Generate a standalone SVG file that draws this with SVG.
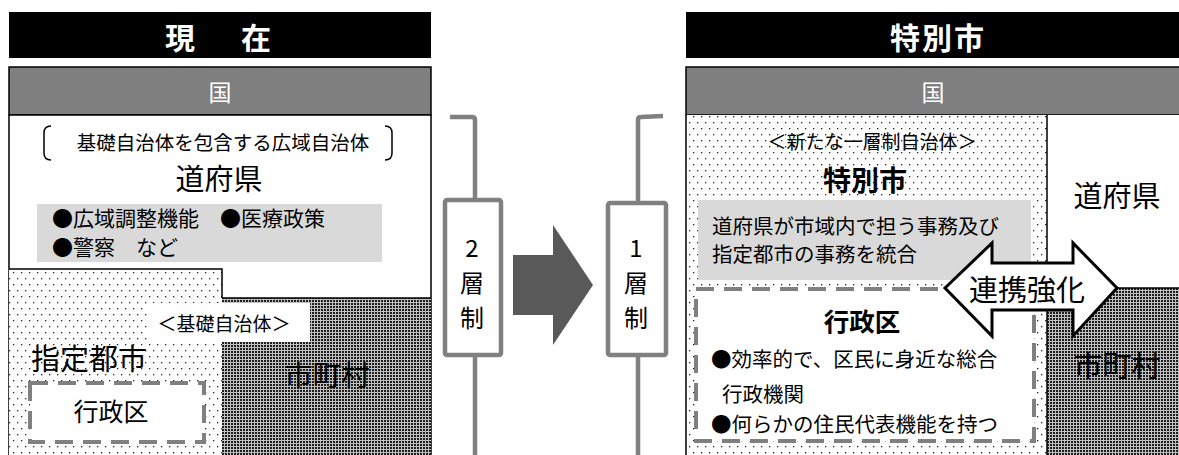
<svg xmlns="http://www.w3.org/2000/svg" width="1179" height="455" viewBox="0 0 1179 455">
<defs>
<pattern id="dots" width="8" height="12" patternUnits="userSpaceOnUse">
<rect width="8" height="12" fill="#fff"/>
<rect x="1" y="2" width="1.3" height="1.3" fill="#222"/>
<rect x="5" y="8" width="1.3" height="1.3" fill="#222"/>
</pattern>
<pattern id="dark" width="3" height="3" patternUnits="userSpaceOnUse">
<rect width="3" height="3" fill="#c0c0c0"/>
<rect width="2" height="2" fill="#1e1e1e"/>
</pattern>
<style>
text{font-family:"Noto Sans CJK JP","Noto Sans CJK SC",sans-serif;fill:#000}
.title{fill:#fff;font-weight:bold;font-size:30px;text-anchor:middle}
.kuni{fill:#fff;font-size:23px;text-anchor:middle}
.bar{fill:#000}
.kbar{fill:#7f7f7f;stroke:#000;stroke-width:1.5}
.edge{fill:none;stroke:#000;stroke-width:1.5}
.gray{fill:#d9d9d9}
.dash{fill:#fff;stroke:#808080;stroke-width:4;stroke-dasharray:18 10}
.tier{fill:#fff;stroke:#808080;stroke-width:4.5}
.tline{fill:none;stroke:#808080;stroke-width:4.5}
.mid{text-anchor:middle}
</style>
</defs>
<rect width="1179" height="455" fill="#fff"/>

<g id="current-panel">
<rect class="bar" x="9" y="12" width="422" height="46"/>
<text class="title" x="222" y="49" letter-spacing="8">現　在</text>
</g>

<g id="current-kuni">
<rect class="kbar" x="9" y="67" width="422" height="48"/>
<text class="kuni" x="220" y="101">国</text>
</g>

<g id="current-prefecture">
<rect x="9" y="115" width="422" height="345" fill="#fff" stroke="#000" stroke-width="1.5"/>
<path class="edge" d="M51,126 Q44,126 44,133 L44,153 Q44,160 51,160"/>
<path class="edge" d="M385,126 Q392,126 392,133 L392,153 Q392,160 385,160"/>
<text x="223" y="150" font-size="19.5" class="mid">基礎自治体を包含する広域自治体</text>
<text x="219" y="190" font-size="29" class="mid">道府県</text>
<rect class="gray" x="37" y="204" width="345" height="58"/>
<text x="52" y="226" font-size="21">●広域調整機能　●医療政策</text>
<text x="52" y="255" font-size="21">●警察　など</text>
</g>

<g id="current-designated-city">
<rect x="9" y="269" width="213" height="190" fill="url(#dots)"/>
<path class="edge" d="M9,269 H222 V298"/>
<text x="31" y="370" font-size="29">指定都市</text>
</g>

<g id="current-municipality">
<rect x="222" y="298" width="209" height="160" fill="url(#dark)"/>
<path class="edge" d="M222,298 H431"/>
<text x="327" y="386" font-size="28.5" class="mid">市町村</text>
</g>

<g id="current-basic-label">
<rect x="148" y="303" width="162" height="39" fill="#fff"/>
<text x="224" y="331" font-size="19" class="mid">＜基礎自治体＞</text>
</g>

<g id="current-ward">
<rect class="dash" x="30" y="383" width="174" height="59"/>
<text x="111" y="421" font-size="25" class="mid">行政区</text>
</g>

<g id="two-tier">
<rect class="tier" x="445" y="200" width="56" height="155" rx="2"/>
<text x="472" y="257" font-size="24" class="mid">2</text>
<text x="472" y="292" font-size="24" class="mid">層</text>
<text x="472" y="327" font-size="24" class="mid">制</text>
</g>

<g id="one-tier">
<rect class="tier" x="608" y="203" width="58" height="152" rx="2"/>
<text x="636" y="257" font-size="24" class="mid">1</text>
<text x="636" y="292" font-size="24" class="mid">層</text>
<text x="636" y="327" font-size="24" class="mid">制</text>
</g>

<g id="special-panel">
<rect class="bar" x="686" y="12" width="493" height="46"/>
<text class="title" x="938" y="49" font-size="31" letter-spacing="2">特別市</text>
</g>

<g id="special-kuni">
<rect class="kbar" x="686" y="67" width="500" height="48"/>
<text class="kuni" x="933" y="101">国</text>
</g>

<g id="special-prefecture">
<rect x="1047" y="115" width="140" height="173" fill="#fff"/>
<text x="1117" y="207" font-size="29" class="mid">道府県</text>
</g>

<g id="special-city">
<rect x="686" y="115" width="361" height="345" fill="url(#dots)"/>
<path class="edge" d="M686,115 V460 M1047,115 V288"/>
<text x="872" y="149" font-size="19" class="mid">＜新たな一層制自治体＞</text>
<text x="865" y="191" font-size="28" font-weight="bold" class="mid">特別市</text>
<rect class="gray" x="698" y="200" width="333" height="80"/>
<text x="712" y="234" font-size="20.5">道府県が市域内で担う事務及び</text>
<text x="712" y="262" font-size="20.5">指定都市の事務を統合</text>
</g>

<g id="special-ward">
<rect class="dash" x="696" y="289" width="338" height="152"/>
<text x="862" y="331" font-size="25.5" font-weight="bold" class="mid">行政区</text>
<text x="711" y="367" font-size="20.5">●効率的で、区民に身近な総合</text>
<text x="722" y="402" font-size="20.5">行政機関</text>
<text x="711" y="432" font-size="20.5">●何らかの住民代表機能を持つ</text>
</g>

<g id="special-municipality">
<rect x="1047" y="288" width="140" height="172" fill="url(#dark)"/>
<path class="edge" d="M1047,288 H1179 M1047,288 V460"/>
<text x="1117" y="377" font-size="29" class="mid">市町村</text>
</g>

<g id="connectors">
<path class="tline" d="M450,117 H472 Q475,117 475,120 V200 M475,355 V460"/>
<path class="tline" d="M663,116 L641,117 Q638,117 638,120 V203 M638,355 V460"/>
<polygon points="513,255 553,255 553,225 593,285 553,345 553,315 513,315" fill="#595959"/>
<polygon points="945,288 992,243 992,263 1073,263 1073,243 1117,288 1073,336 1073,310 992,310 992,336" fill="#fff" stroke="#000" stroke-width="3" stroke-linejoin="miter"/>
<text x="1027" y="301" font-size="29" class="mid">連携強化</text>
</g>
</svg>
